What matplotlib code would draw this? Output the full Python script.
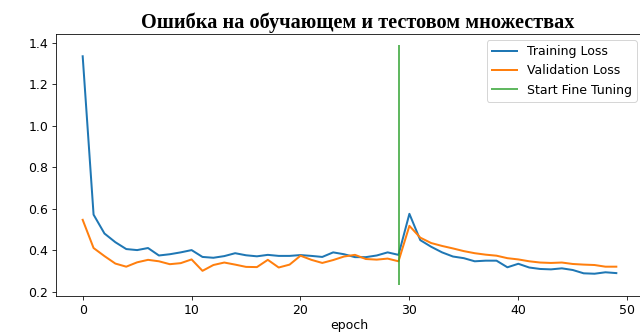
import numpy as np
import matplotlib
matplotlib.use('Agg')
import matplotlib.pyplot as plt

# Ошибка по эпохам
train_loss = [1.335, 0.571, 0.48, 0.438, 0.405, 0.40, 0.41, 0.374, 0.38, 0.389,
              0.40, 0.367, 0.363, 0.371, 0.385, 0.375, 0.37, 0.377, 0.372, 0.372,
              0.376, 0.372, 0.367, 0.389, 0.38, 0.366, 0.366, 0.374, 0.389, 0.377,
              0.575, 0.448, 0.416, 0.389, 0.369, 0.361, 0.346, 0.349, 0.349, 0.317,
              0.334, 0.316, 0.309, 0.307, 0.312, 0.304, 0.288, 0.286, 0.293, 0.289]
val_loss = [0.546, 0.41, 0.371, 0.335, 0.32, 0.341, 0.353, 0.346, 0.332, 0.337,
            0.355, 0.30, 0.328, 0.34, 0.33, 0.319, 0.318, 0.353, 0.316, 0.33,
            0.373, 0.353, 0.338, 0.352, 0.369, 0.377, 0.357, 0.354, 0.359, 0.346,
            0.517, 0.46, 0.434, 0.42, 0.408, 0.395, 0.385, 0.378, 0.373, 0.361,
            0.355, 0.346, 0.34, 0.338, 0.34, 0.333, 0.33, 0.328, 0.32, 0.32]
fine_tune_epoch = 29

epochs = np.arange(len(train_loss))

plt.rcParams['font.size'] = 12.5
plt.rcParams['xtick.major.size'] = 4.4
plt.rcParams['ytick.major.size'] = 4.4

fig = plt.figure(figsize=(640 / 72, 336 / 72), dpi=72)
# оси немного выходят за правый край, как на исходной картинке
ax = fig.add_axes([56 / 640, 40 / 336, 587 / 640, 262 / 336])

ax.plot(epochs, train_loss, label='Training Loss', linewidth=2)
ax.plot(epochs, val_loss, label='Validation Loss', linewidth=2)
lo = min(min(train_loss), min(val_loss)) - 0.05
hi = max(max(train_loss), max(val_loss)) + 0.05
ax.plot([fine_tune_epoch, fine_tune_epoch], [lo, hi], color='tab:green',
        alpha=0.75, linewidth=2, label='Start Fine Tuning')

ax.set_xlabel('epoch', labelpad=2)
ax.set_title('Ошибка на обучающем и тестовом множествах',
             fontdict={'family': 'Liberation Serif', 'weight': 'bold', 'size': 20.3},
             x=0.514, pad=6)
ax.legend(loc='upper right')

fig.savefig('out.png', dpi=72)
